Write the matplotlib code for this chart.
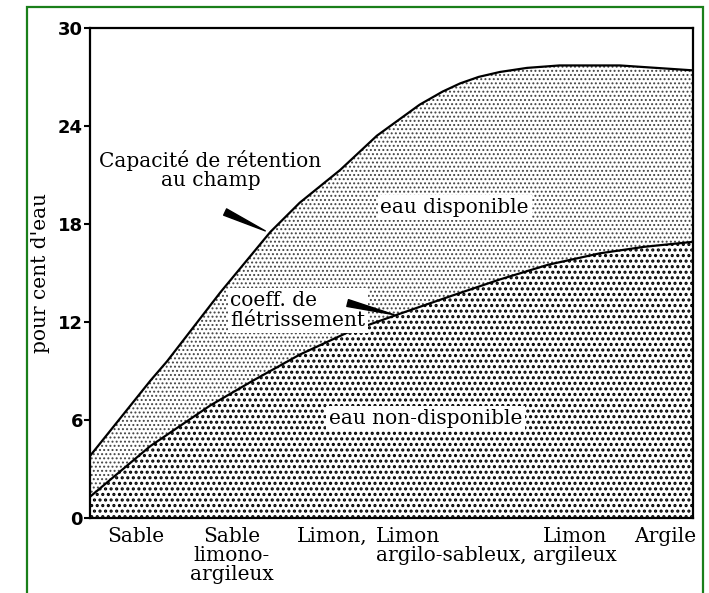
import matplotlib
matplotlib.use('Agg')
import matplotlib.pyplot as plt
from matplotlib.patches import Rectangle
import numpy as np

# x runs 0..100 across the soil-texture axis
x_cap = [0, 10, 12.8, 21.6, 29.9, 34.8, 41.5, 47.6, 54.7, 58.5, 61.4, 64.5, 68, 72.5, 77.9, 87.9, 100]
cap_champ = [3.8, 8.4, 9.6, 13.8, 17.5, 19.3, 21.3, 23.4, 25.3, 26.1, 26.6, 27.0, 27.3, 27.55, 27.7, 27.7, 27.4]

x_flet = [0, 10, 20, 27, 34.8, 43, 51.4, 60, 68, 76, 84.6, 92, 100]
coeff_flet = [1.3, 4.4, 6.9, 8.4, 10.0, 11.4, 12.5, 13.6, 14.6, 15.5, 16.2, 16.6, 16.9]

sol_pos = [7.6, 23.5, 40.2, 47.4, 80.5, 95.5]
sol_labels = ['Sable', 'Sable\nlimono-\nargileux', 'Limon,', 'Limon\nargilo-sableux,',
              'Limon\nargileux', 'Argile']
sol_align = ['center', 'center', 'center', 'left', 'center', 'center']

yticks = [0, 6, 12, 18, 24, 30]

serif = 'DejaVu Serif'
fs = 14.5

fig = plt.figure(figsize=(7.09, 5.93), dpi=100)
ax = fig.add_axes([0.127, 0.1265, 0.85, 0.8265])

# green frame around the figure
fig.patches.append(Rectangle((27 / 709, -0.05), 676 / 709, 1 - 7 / 593 + 0.05,
                             transform=fig.transFigure, fill=False,
                             edgecolor='#1a7f1a', linewidth=1.6))

# eau non-disponible (coarse dots)
with plt.rc_context({'hatch.linewidth': 1.5}):
    ax.fill_between(x_flet, 0, coeff_flet, facecolor='white', edgecolor='black',
                    hatch='...', linewidth=0)

# eau disponible (fine dots), between the two curves
x_all = sorted(set(x_cap) | set(x_flet))
top = np.interp(x_all, x_cap, cap_champ)
bot = np.interp(x_all, x_flet, coeff_flet)
with plt.rc_context({'hatch.linewidth': 0.9}):
    ax.fill_between(x_all, bot, top, facecolor='white', edgecolor='#444444',
                    hatch='....', linewidth=0)

ax.plot(x_cap, cap_champ, color='black', lw=1.6)
ax.plot(x_flet, coeff_flet, color='black', lw=1.6)

ax.set_xlim(0, 100)
ax.set_ylim(0, 30)
ax.set_xticks([])
ax.set_yticks(yticks)
ax.set_yticklabels([str(v) for v in yticks], fontweight='bold', fontsize=13)
ax.tick_params(axis='y', length=4, width=1.5, pad=1)
for s in ax.spines.values():
    s.set_linewidth(1.6)

ax.set_ylabel("pour cent d'eau", family=serif, fontsize=fs, labelpad=6)

for xp, lab, ha in zip(sol_pos, sol_labels, sol_align):
    ax.text(xp, -0.018, lab, transform=ax.get_xaxis_transform(), ha=ha, va='top',
            family=serif, fontsize=fs, linespacing=1.0)

box = dict(facecolor='white', edgecolor='none', pad=2)
ax.text(20, 21.3, 'Capacité de rétention\nau champ', ha='center', va='center',
        family=serif, fontsize=fs, linespacing=1.05)
ax.text(60.5, 19.0, 'eau disponible', ha='center', va='center',
        family=serif, fontsize=fs, bbox=box)
ax.text(23.3, 12.7, 'coeff. de\nflétrissement', ha='left', va='center',
        family=serif, fontsize=fs, linespacing=1.05, bbox=box)
ax.text(55.7, 6.1, 'eau non-disponible', ha='center', va='center',
        family=serif, fontsize=fs, bbox=box)

ax.annotate('', xy=(29.5, 17.5), xytext=(22.0, 18.8),
            arrowprops=dict(arrowstyle='wedge,tail_width=0.5', color='black'))
ax.annotate('', xy=(50.9, 12.4), xytext=(42.3, 13.2),
            arrowprops=dict(arrowstyle='wedge,tail_width=0.5', color='black'))

fig.savefig('out.png', dpi=100)
